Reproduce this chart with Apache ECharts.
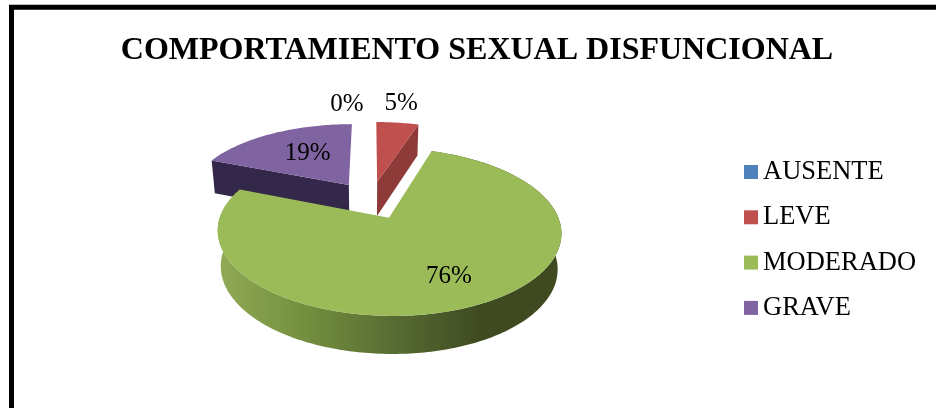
<!DOCTYPE html>
<html>
<head>
<meta charset="utf-8">
<style>
  html, body { margin: 0; padding: 0; background: #fff; }
  #chart { width: 936px; height: 408px; }
</style>
<script src="https://cdn.jsdelivr.net/npm/echarts@6/dist/echarts.min.js"></script>
</head>
<body>
<div id="chart"></div>
<script>
// Severity categories and their share of the sample, in percent.
const categories = ['AUSENTE', 'LEVE', 'MODERADO', 'GRAVE'];
const percentages = [0, 5, 76, 19];
const chartTitle = 'COMPORTAMIENTO SEXUAL DISFUNCIONAL';

const topColors = ['#4f81bd', '#c0504d', '#9bbb59', '#8064a2'];
const cutFaceColors = ['#2f4d71', '#8e3a38', '#4f6130', '#33274a'];
const paintOrder = [1, 3, 4, 2];

// Where each percentage label sits: radial distance along the slice bisector, plus a nudge.
const labelRadius = [1.36, 1.4, 0.7, 0.58];
const labelNudge = [[-24, 0], [-3, 0], [1, 1], [5, 0]];

// Projection of the exploded disc onto the page.
const view = {
  cx: 371, cy: 200, rx: 163, ry: 75.4,
  perspective: 0.165, explode: 0.25,
  baseScale: 0.98, depthNear: 34.5, depthSlope: -2.9
};
const serif = '"Liberation Serif", "Times New Roman", serif';

function slicesFrom(values) {
  const total = values.reduce((a, b) => a + b, 0);
  let running = 0;
  return values.map(v => {
    const start = running / total * 360;
    running += v;
    return { start, end: running / total * 360 };
  });
}
const slices = slicesFrom(percentages);

// Project a disc point (u to the right, v away from the viewer) on the top or base plane.
function project(u, v, onBase) {
  const w = 1 + view.perspective * v;
  let x = view.rx * u / w;
  let y = -view.ry * v / w;
  if (onBase) {
    x *= view.baseScale;
    y += view.depthNear + view.depthSlope * v;
  }
  return [view.cx + x, view.cy + y];
}

function offsetOf(slice) {
  const mid = (slice.start + slice.end) / 2 * Math.PI / 180;
  return [view.explode * Math.sin(mid), view.explode * Math.cos(mid)];
}

function rimPoint(slice, angleDeg, onBase) {
  const a = angleDeg * Math.PI / 180;
  const o = offsetOf(slice);
  return project(o[0] + Math.sin(a), o[1] + Math.cos(a), onBase);
}

function apexPoint(slice, onBase) {
  const o = offsetOf(slice);
  return project(o[0], o[1], onBase);
}

function arc(slice, onBase) {
  const pts = [];
  const steps = Math.max(1, Math.ceil(slice.end - slice.start));
  for (let i = 0; i <= steps; i++) {
    pts.push(rimPoint(slice, slice.start + (slice.end - slice.start) * i / steps, onBase));
  }
  return pts;
}

const rimGradient = {
  type: 'linear', global: true, x: 222, y: 0, x2: 480, y2: 0,
  colorStops: [
    { offset: 0, color: '#8fa955' },
    { offset: 0.3, color: '#75913f' },
    { offset: 0.68, color: '#566b32' },
    { offset: 1, color: '#3f4a21' }
  ]
};

function renderSlice(index) {
  const slice = slices[index];
  const children = [];
  if (percentages[index] > 0) {
    const mid = (slice.start + slice.end) / 2;
    // Cut face running along the clockwise-leading or trailing edge that faces the viewer.
    if (mid < 90 || mid > 270) {
      const edge = mid < 90 ? slice.end : slice.start;
      children.push({
        type: 'polygon',
        shape: { points: [apexPoint(slice, false), rimPoint(slice, edge, false), rimPoint(slice, edge, true), apexPoint(slice, true)] },
        style: { fill: cutFaceColors[index] }
      });
    } else {
      // Outer wall of the slice that reaches the front of the disc.
      children.push({
        type: 'polygon',
        shape: { points: arc(slice, false).concat(arc(slice, true).reverse()) },
        style: { fill: rimGradient }
      });
    }
    children.push({
      type: 'polygon',
      shape: { points: [apexPoint(slice, false)].concat(arc(slice, false)) },
      style: { fill: topColors[index] }
    });
  }
  const mid = (slice.start + slice.end) / 2 * Math.PI / 180;
  const o = offsetOf(slice);
  const r = labelRadius[index];
  const at = project(o[0] + r * Math.sin(mid), o[1] + r * Math.cos(mid), false);
  children.push({
    type: 'text',
    x: at[0] + labelNudge[index][0],
    y: at[1] + labelNudge[index][1],
    z2: 10,
    style: {
      text: percentages[index] + '%',
      fill: '#000',
      font: '25px ' + serif,
      align: 'center',
      verticalAlign: 'middle'
    }
  });
  return { type: 'group', children };
}

const chart = echarts.init(document.getElementById('chart'), null, { renderer: 'canvas' });
chart.setOption({
  animation: false,
  backgroundColor: '#fff',
  title: {
    text: chartTitle,
    left: 472,
    top: 30,
    textAlign: 'center',
    textStyle: { fontFamily: serif, fontSize: 32, fontWeight: 'bold', color: '#000' }
  },
  legend: {
    orient: 'vertical',
    left: 744,
    top: 157,
    icon: 'rect',
    itemWidth: 14,
    itemHeight: 14,
    itemGap: 15.3,
    selectedMode: false,
    padding: 0,
    data: categories,
    textStyle: { fontFamily: serif, fontSize: 26.5, color: '#000', height: 30, lineHeight: 30 }
  },
  // Open frame: only the top and left rules stay inside the canvas.
  graphic: [{
    type: 'polyline',
    silent: true,
    shape: { points: [[11.5, 408], [11.5, 7.2], [936, 7.2]] },
    style: { stroke: '#000', lineWidth: 5, fill: null, lineJoin: 'miter' }
  }],
  series: categories.map((name, i) => ({
    type: 'custom',
    name,
    coordinateSystem: 'none',
    z: paintOrder[i],
    silent: true,
    itemStyle: { color: topColors[i] },
    data: [percentages[i]],
    renderItem: () => renderSlice(i)
  }))
});
</script>
</body>
</html>
